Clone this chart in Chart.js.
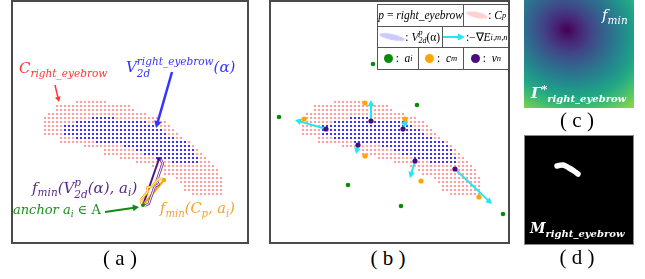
<!DOCTYPE html>
<html>
<head>
<meta charset="utf-8">
<script src="https://cdn.jsdelivr.net/npm/chart.js@4.4.1/dist/chart.umd.min.js"></script>
<style>
body{margin:0;width:645px;height:279px;background:#fff;position:relative;overflow:hidden;font-family:'DejaVu Serif',serif}
.panel{position:absolute;box-sizing:border-box}
.panel canvas{display:block}
.math{position:absolute;font-style:italic;white-space:nowrap;line-height:1}
sub{font-size:0.7em;vertical-align:-0.35em;line-height:0}
sup{font-size:0.7em;vertical-align:0.5em;line-height:0}
.ss{display:inline-flex;flex-direction:column;vertical-align:0.62em;font-size:0.7em;line-height:1.15}
.up{font-style:normal}
.cap{position:absolute;font-family:'Liberation Serif',serif;font-size:21px;line-height:1;width:60px;text-align:center;white-space:pre}
#legend{position:absolute;left:377px;top:4px;width:132px;border:1px solid #555;border-bottom:none;box-sizing:border-box;font-family:'Liberation Serif',serif;font-size:11.5px}
.lrow{display:flex;height:21.5px;border-bottom:1px solid #555;box-sizing:border-box}
.lcell{border-left:1px solid #555;display:flex;align-items:center;justify-content:center;white-space:nowrap;font-style:italic;position:relative;box-sizing:border-box}
.lcell:first-child{border-left:none}
.lcell sub{font-size:8.5px}
.dot{display:inline-block;width:9px;height:9px;border-radius:50%;margin-right:3px}
.brush{display:inline-block;height:6px;border-radius:50%;filter:blur(0.6px);transform:rotate(12deg)}
</style>
</head>
<body>

<div class="panel" style="left:11px;top:0;width:238px;height:244px;border:2px solid #4a4a4a">
  <canvas id="chartA" width="234" height="240"></canvas>
</div>
<div class="panel" style="left:269px;top:0;width:241px;height:244px;border:2px solid #4a4a4a">
  <canvas id="chartB" width="237" height="240"></canvas>
</div>
<div class="panel" style="left:524px;top:0;width:110px;height:108px">
  <canvas id="chartC" width="110" height="108"></canvas>
</div>
<div class="panel" style="left:524px;top:135px;width:110px;height:110px;border:1px solid #888;background:#000">
  <canvas id="chartD" width="108" height="108"></canvas>
</div>

<!-- panel (a) annotations -->
<div class="math" style="left:19px;top:61px;color:#ff3333;font-size:15px">C<sub>right_eyebrow</sub></div>
<div class="math" style="left:126px;top:55px;color:#3535ff;font-size:15px">V<span class="ss"><span>right_eyebrow</span><span>2d</span></span>(α)</div>
<div class="math" style="left:32px;top:176px;color:#5b2a8a;font-size:15px">f<sub>min</sub>(V<span class="ss"><span>p</span><span>2d</span></span>(α), a<sub>i</sub>)</div>
<div class="math" style="left:13px;top:203px;color:#1c901c;font-size:13px">anchor a<sub>i</sub> ∈ <span class="up">A</span></div>
<div class="math" style="left:160px;top:201px;color:#f7a325;font-size:14.5px">f<sub>min</sub>(C<sub>p</sub>, a<sub>i</sub>)</div>

<!-- panel (b) legend -->
<div id="legend">
  <div class="lrow">
    <div class="lcell" style="width:86px">p <span class="up">&nbsp;=&nbsp;</span> right_eyebrow</div>
    <div class="lcell" style="width:45px"><span class="brush" style="width:22px;background:rgba(255,170,170,0.55)"></span><span class="up">:</span>&nbsp;C<sub>p</sub></div>
  </div>
  <div class="lrow">
    <div class="lcell" style="width:64px"><span class="brush" style="width:26px;background:rgba(150,150,255,0.5)"></span><span class="up">:</span>&nbsp;V<span class="ss" style="font-size:8px;line-height:1"><span>p</span><span>2d</span></span><span class="up">(α)</span></div>
    <div class="lcell" style="width:67px"><svg width="22" height="8" style="margin-right:1px"><line x1="0" y1="4" x2="16" y2="4" stroke="#22e6f2" stroke-width="2"/><polygon points="22,4 15,0.5 15,7.5" fill="#22e6f2"/></svg><span class="up">:−∇</span>E<sub>i,m,n</sub></div>
  </div>
  <div class="lrow">
    <div class="lcell" style="width:41px"><span class="dot" style="background:#0a8a0a"></span><span class="up">:&nbsp;</span>&nbsp;a<sub>i</sub></div>
    <div class="lcell" style="width:45px"><span class="dot" style="background:#ffa500"></span><span class="up">:&nbsp;</span>&nbsp;c<sub>m</sub></div>
    <div class="lcell" style="width:46px"><span class="dot" style="background:#4b0a82"></span><span class="up">:&nbsp;</span>&nbsp;v<sub>n</sub></div>
  </div>
</div>

<!-- panel (c), (d) labels -->
<div class="math" style="left:602px;top:8px;color:#fff;font-size:15px">f<sub>min</sub></div>
<div class="math" style="left:531px;top:86px;color:#fff;font-size:15px;font-weight:bold">Γ<sup>*</sup><sub style="font-size:10px">right_eyebrow</sub></div>
<div class="math" style="left:530px;top:221px;color:#fff;font-size:14px;font-weight:bold">M<sub style="font-size:10px">right_eyebrow</sub></div>

<div class="cap" style="left:90px;top:248px">( a )</div>
<div class="cap" style="left:358px;top:248px">( b )</div>
<div class="cap" style="left:547px;top:110px">( c )</div>
<div class="cap" style="left:547px;top:247px">( d )</div>

<script>
const gridStep = 4

// point cloud C_p of the eyebrow: [row y, first x, last x]
const contourRows = [
  [100, 64, 92], [104, 44, 116], [108, 44, 120], [112, 36, 132], [116, 32, 144],
  [120, 32, 152], [124, 32, 156], [128, 32, 160], [132, 32, 164], [136, 48, 168],
  [140, 48, 176], [144, 72, 180], [148, 92, 184], [152, 92, 188], [156, 108, 192],
  [160, 124, 196], [164, 140, 200], [168, 148, 204], [172, 152, 204], [176, 164, 208],
  [180, 168, 208], [184, 172, 208], [188, 172, 208], [192, 180, 208]
]
// projected vertices V_2d(alpha)
const vertexRows = [
  [116, 80, 100], [120, 64, 132], [124, 52, 140], [128, 52, 148], [132, 52, 152],
  [136, 64, 160], [140, 84, 172], [144, 112, 176], [148, 124, 180], [152, 132, 180],
  [156, 144, 184], [160, 160, 184]
]

// panel (a): one anchor and its two nearest points
const anchorAX = [130], anchorAY = [203]
const nearestVX = [146], nearestVY = [157]
const nearestCX = [151], nearestCY = [178]

// panel (b)
const anchorX = [102, 146, 8, 77, 130, 232]
const anchorY = [62, 103, 115, 183, 204, 212]
const closestCX = [94, 33, 134, 94, 150, 208]
const closestCY = [101, 117, 117, 154, 179, 195]
const closestVX = [100, 55, 132, 87, 144, 184]
const closestVY = [119, 127, 127, 143, 159, 167]
const gradTipX = [100, 24, 135, 85, 139, 221]
const gradTipY = [98, 118, 117, 152, 176, 202]

// panel (c) minimum of f_min, panel (d) mask centre line
const fieldMinX = [43], fieldMinY = [30]
const maskX = [32, 38, 44, 49, 53]
const maskY = [30, 29, 32, 35, 38]

const viridis = ['#440154', '#482475', '#414487', '#355f8d', '#2a788e', '#21918c', '#22a884', '#44bf70', '#7ad151', '#bddf26', '#fde725']

function rowsToPoints(rows){
  const pts = []
  rows.forEach(([y, x0, x1]) => {
    for(let x = x0; x <= x1; x += gridStep) pts.push({x, y})
  })
  return pts
}

function zipPoints(xs, ys){
  return xs.map((x, i) => ({x, y: ys[i]}))
}

function drawArrow(ctx, x0, y0, x1, y1, color, width, head){
  const a = Math.atan2(y1 - y0, x1 - x0)
  ctx.save()
  ctx.strokeStyle = color
  ctx.fillStyle = color
  ctx.lineWidth = width
  ctx.beginPath()
  ctx.moveTo(x0, y0)
  ctx.lineTo(x1 - Math.cos(a) * head * 0.7, y1 - Math.sin(a) * head * 0.7)
  ctx.stroke()
  ctx.beginPath()
  ctx.moveTo(x1, y1)
  ctx.lineTo(x1 - head * Math.cos(a - 0.5), y1 - head * Math.sin(a - 0.5))
  ctx.lineTo(x1 - head * Math.cos(a + 0.5), y1 - head * Math.sin(a + 0.5))
  ctx.closePath()
  ctx.fill()
  ctx.restore()
}

// hollow curly brace along a segment, offset to one side
function drawBrace(ctx, p0, p1, side, color){
  const len = Math.hypot(p1.x - p0.x, p1.y - p0.y)
  const dx = (p1.x - p0.x) / len, dy = (p1.y - p0.y) / len
  const nx = -dy * side, ny = dx * side
  const m = {x: (p0.x + p1.x) / 2, y: (p0.y + p1.y) / 2}
  const pts = [
    [p0.x + nx * 2, p0.y + ny * 2],
    [p0.x + nx * 5 + dx * 3, p0.y + ny * 5 + dy * 3],
    [m.x + nx * 5 - dx * 3, m.y + ny * 5 - dy * 3],
    [m.x + nx * 8, m.y + ny * 8],
    [m.x + nx * 5 + dx * 3, m.y + ny * 5 + dy * 3],
    [p1.x + nx * 5 - dx * 3, p1.y + ny * 5 - dy * 3],
    [p1.x + nx * 2, p1.y + ny * 2]
  ]
  ctx.save()
  ctx.lineJoin = 'round'
  ctx.beginPath()
  pts.forEach(([x, y], i) => i ? ctx.lineTo(x, y) : ctx.moveTo(x, y))
  ctx.strokeStyle = color
  ctx.lineWidth = 2.6
  ctx.stroke()
  ctx.strokeStyle = '#fff'
  ctx.lineWidth = 1
  ctx.stroke()
  ctx.restore()
}

function baseOptions(w, h){
  return {
    responsive: false,
    animation: false,
    events: [],
    layout: {padding: 0, autoPadding: false},
    scales: {
      x: {type: 'linear', display: false, min: 0, max: w},
      y: {type: 'linear', display: false, min: 0, max: h, reverse: true}
    },
    plugins: {legend: {display: false}, tooltip: {enabled: false}}
  }
}

const contourPts = rowsToPoints(contourRows)
const vertexPts = rowsToPoints(vertexRows)

function gridDatasets(){
  return [
    {data: contourPts, pointStyle: 'rect', pointRadius: 1.5, backgroundColor: 'rgba(255,120,120,0.7)', borderWidth: 0, order: 10},
    {data: vertexPts, pointStyle: 'rect', pointRadius: 1.3, backgroundColor: '#2a2aff', borderWidth: 0, order: 9}
  ]
}

// ---- panel (a)
const calloutsA = {
  id: 'calloutsA',
  afterDatasetsDraw(chart){
    const {ctx, scales: {x, y}} = chart
    const px = (vx, vy) => ({x: x.getPixelForValue(vx), y: y.getPixelForValue(vy)})
    const a = px(anchorAX[0], anchorAY[0])
    drawBrace(ctx, a, px(nearestVX[0], nearestVY[0]), 1, '#6a3aa0')
    drawBrace(ctx, a, px(nearestCX[0], nearestCY[0]), -1, '#ffa520')
    let s = px(42, 83), e = px(46, 100)
    drawArrow(ctx, s.x, s.y, e.x, e.y, '#ff3333', 1.5, 6)
    s = px(159, 70); e = px(143, 126)
    drawArrow(ctx, s.x, s.y, e.x, e.y, '#3535ff', 2.5, 8)
    s = px(92, 210); e = px(126, 205)
    drawArrow(ctx, s.x, s.y, e.x, e.y, '#138a13', 2, 7)
  }
}

new Chart(document.getElementById('chartA'), {
  type: 'scatter',
  data: {datasets: [
    ...gridDatasets(),
    {data: [...zipPoints(anchorAX, anchorAY), ...zipPoints(nearestVX, nearestVY)], showLine: true,
      borderColor: '#4b1c7d', borderWidth: 2, pointRadius: [0, 2], pointBackgroundColor: '#4b1c7d', pointBorderWidth: 0, order: 5},
    {data: [...zipPoints(anchorAX, anchorAY), ...zipPoints(nearestCX, nearestCY)], showLine: true,
      borderColor: '#ffa500', borderWidth: 2, pointRadius: [0, 2.2], pointBackgroundColor: '#ffa500', pointBorderWidth: 0, order: 4},
    {data: zipPoints(anchorAX, anchorAY), pointRadius: 2, backgroundColor: '#128a12', borderWidth: 0, order: 1}
  ]},
  options: baseOptions(234, 240),
  plugins: [calloutsA]
})

// ---- panel (b)
const gradArrows = {
  id: 'gradArrows',
  afterDatasetDraw(chart, args){
    if(args.index !== 1) return
    const {ctx, scales: {x, y}} = chart
    closestVX.forEach((vx, i) => {
      drawArrow(ctx, x.getPixelForValue(vx), y.getPixelForValue(closestVY[i]),
        x.getPixelForValue(gradTipX[i]), y.getPixelForValue(gradTipY[i]), '#22e6f2', 2, 7)
    })
  }
}

new Chart(document.getElementById('chartB'), {
  type: 'scatter',
  data: {datasets: [
    ...gridDatasets(),
    {data: zipPoints(anchorX, anchorY), pointRadius: 2.3, backgroundColor: '#0a8a0a', borderWidth: 0, order: 3},
    {data: zipPoints(closestCX, closestCY), pointRadius: 2.6, backgroundColor: '#ffa500', borderWidth: 0, order: 2},
    {data: zipPoints(closestVX, closestVY), pointRadius: 2.6, backgroundColor: '#4b0a82', borderWidth: 0, order: 1}
  ]},
  options: baseOptions(237, 240),
  plugins: [gradArrows]
})

// ---- panel (c)
const fieldPaint = {
  id: 'fieldPaint',
  beforeDatasetsDraw(chart){
    const {ctx, chartArea: ca, scales: {x, y}} = chart
    const cx = x.getPixelForValue(fieldMinX[0]), cy = y.getPixelForValue(fieldMinY[0])
    ctx.save()
    ctx.beginPath()
    ctx.rect(ca.left, ca.top, ca.width, ca.height)
    ctx.clip()
    ctx.translate(cx, cy)
    ctx.rotate(0.55)
    ctx.scale(1.12, 1)
    ctx.rotate(-0.55)
    const g = ctx.createRadialGradient(0, 0, 0, 0, 0, 110)
    viridis.forEach((c, i) => g.addColorStop(i / (viridis.length - 1), c))
    ctx.fillStyle = g
    ctx.fillRect(-300, -300, 600, 600)
    ctx.restore()
  }
}

new Chart(document.getElementById('chartC'), {
  type: 'scatter',
  data: {datasets: [{data: zipPoints(fieldMinX, fieldMinY), pointRadius: 0}]},
  options: baseOptions(110, 108),
  plugins: [fieldPaint]
})

// ---- panel (d)
new Chart(document.getElementById('chartD'), {
  type: 'scatter',
  data: {datasets: [{data: zipPoints(maskX, maskY), showLine: true, borderColor: '#fff', borderWidth: 5.5,
    borderCapStyle: 'round', borderJoinStyle: 'round', tension: 0.4, pointRadius: 0}]},
  options: baseOptions(108, 108)
})
</script>
</body>
</html>
